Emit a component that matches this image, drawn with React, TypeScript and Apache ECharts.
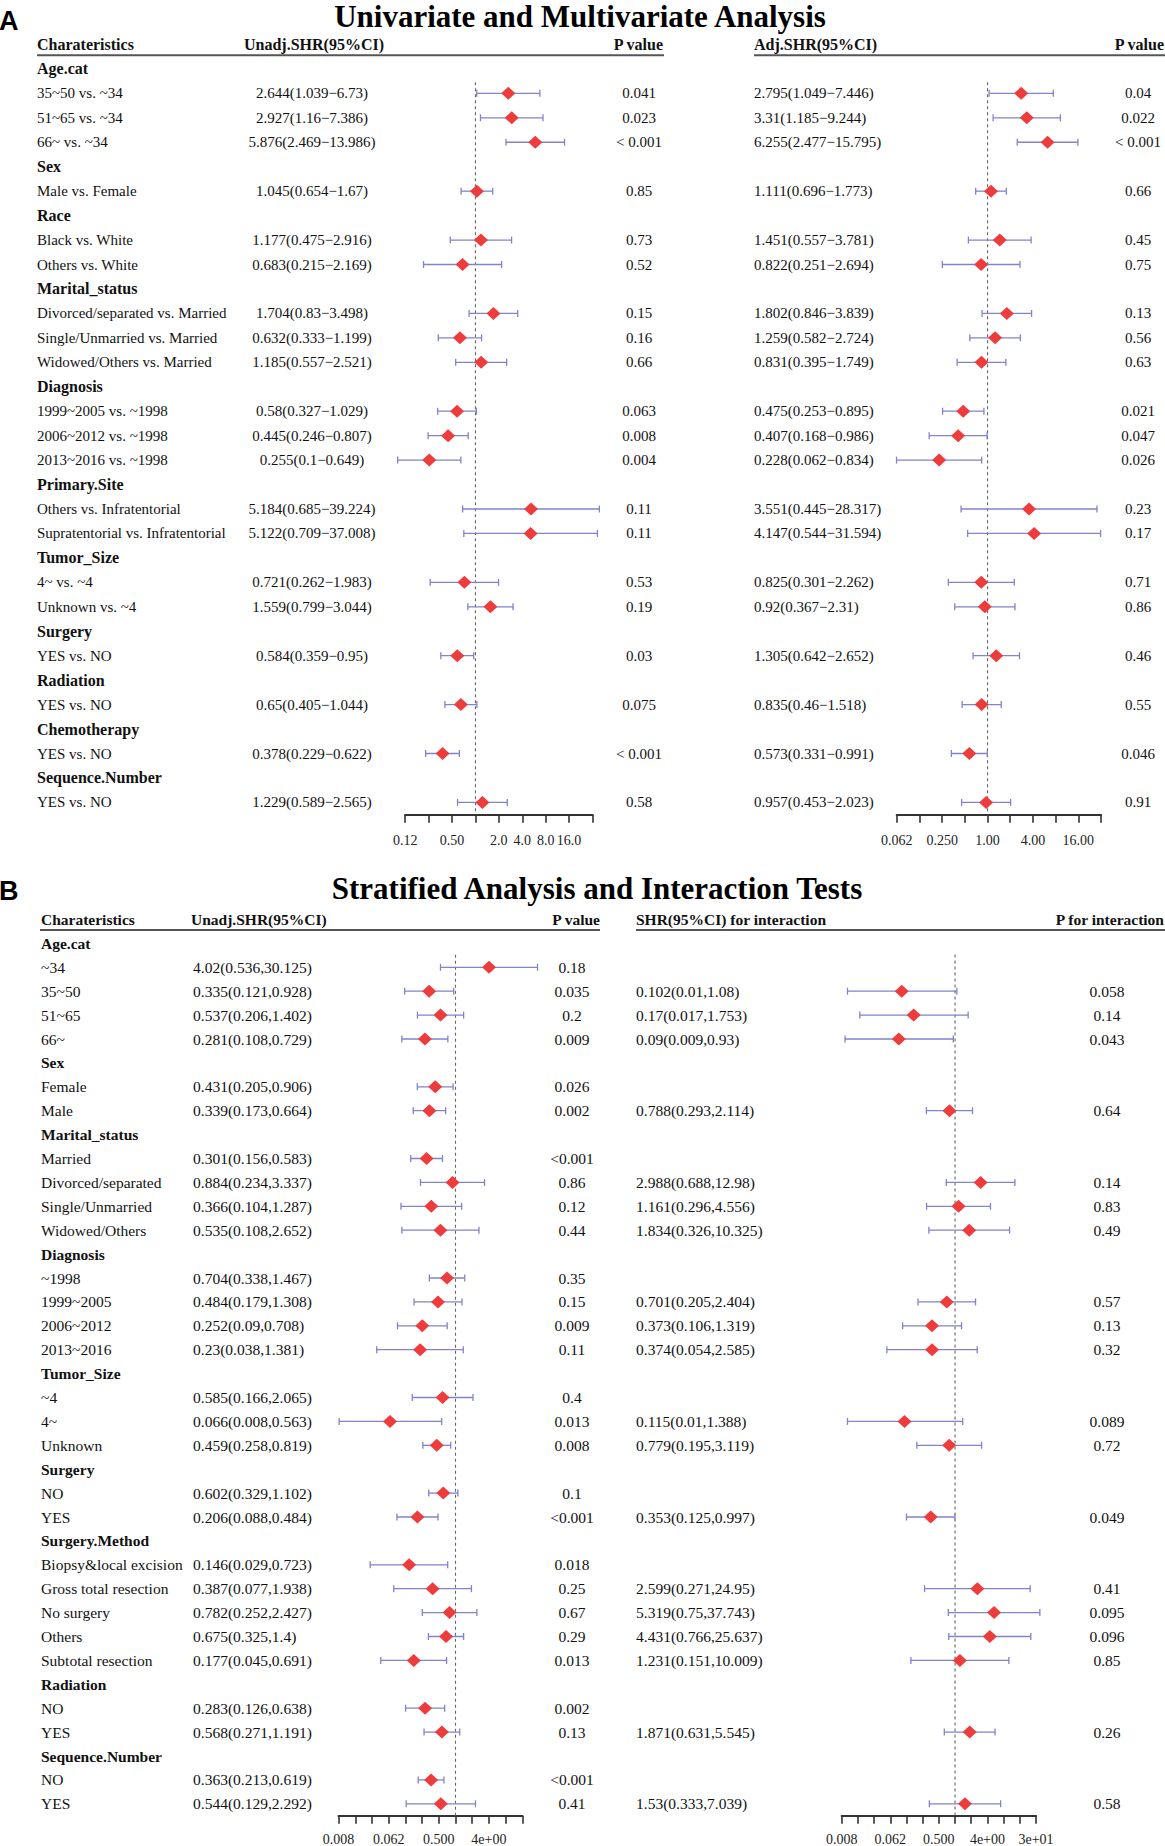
import React, { useEffect, useRef } from "react";
import * as echarts from "echarts";

const W = 1165;
const H = 1846;
const SERIF = '"Liberation Serif", "Times New Roman", Times, serif';
const SANS = '"Liberation Sans", Arial, Helvetica, sans-serif';
const TEXT = "#111111";
const WHISKER = "#8282cf";
const DIAMOND = "#ee3b3b";
const AXIS = "#333333";

// ---------------- Panel A: Univariate and Multivariate Analysis ----------------
const labelsA = [
  "Age.cat", "35~50 vs. ~34", "51~65 vs. ~34", "66~ vs. ~34",
  "Sex", "Male vs. Female",
  "Race", "Black vs. White", "Others vs. White",
  "Marital_status", "Divorced/separated vs. Married", "Single/Unmarried vs. Married", "Widowed/Others vs. Married",
  "Diagnosis", "1999~2005 vs. ~1998", "2006~2012 vs. ~1998", "2013~2016 vs. ~1998",
  "Primary.Site", "Others vs. Infratentorial", "Supratentorial vs. Infratentorial",
  "Tumor_Size", "4~ vs. ~4", "Unknown vs. ~4",
  "Surgery", "YES vs. NO",
  "Radiation", "YES vs. NO",
  "Chemotherapy", "YES vs. NO",
  "Sequence.Number", "YES vs. NO",
];
const unadjHrA = [null, 2.644, 2.927, 5.876, null, 1.045, null, 1.177, 0.683, null, 1.704, 0.632, 1.185, null, 0.58, 0.445, 0.255, null, 5.184, 5.122, null, 0.721, 1.559, null, 0.584, null, 0.65, null, 0.378, null, 1.229];
const unadjLoA = [null, 1.039, 1.16, 2.469, null, 0.654, null, 0.475, 0.215, null, 0.83, 0.333, 0.557, null, 0.327, 0.246, 0.1, null, 0.685, 0.709, null, 0.262, 0.799, null, 0.359, null, 0.405, null, 0.229, null, 0.589];
const unadjHiA = [null, 6.73, 7.386, 13.986, null, 1.67, null, 2.916, 2.169, null, 3.498, 1.199, 2.521, null, 1.029, 0.807, 0.649, null, 39.224, 37.008, null, 1.983, 3.044, null, 0.95, null, 1.044, null, 0.622, null, 2.565];
const unadjPA = ["", "0.041", "0.023", "< 0.001", "", "0.85", "", "0.73", "0.52", "", "0.15", "0.16", "0.66", "", "0.063", "0.008", "0.004", "", "0.11", "0.11", "", "0.53", "0.19", "", "0.03", "", "0.075", "", "< 0.001", "", "0.58"];
const adjHrA = [null, 2.795, 3.31, 6.255, null, 1.111, null, 1.451, 0.822, null, 1.802, 1.259, 0.831, null, 0.475, 0.407, 0.228, null, 3.551, 4.147, null, 0.825, 0.92, null, 1.305, null, 0.835, null, 0.573, null, 0.957];
const adjLoA = [null, 1.049, 1.185, 2.477, null, 0.696, null, 0.557, 0.251, null, 0.846, 0.582, 0.395, null, 0.253, 0.168, 0.062, null, 0.445, 0.544, null, 0.301, 0.367, null, 0.642, null, 0.46, null, 0.331, null, 0.453];
const adjHiA = [null, 7.446, 9.244, 15.795, null, 1.773, null, 3.781, 2.694, null, 3.839, 2.724, 1.749, null, 0.895, 0.986, 0.834, null, 28.317, 31.594, null, 2.262, 2.31, null, 2.652, null, 1.518, null, 0.991, null, 2.023];
const adjPA = ["", "0.04", "0.022", "< 0.001", "", "0.66", "", "0.45", "0.75", "", "0.13", "0.56", "0.63", "", "0.021", "0.047", "0.026", "", "0.23", "0.17", "", "0.71", "0.86", "", "0.46", "", "0.55", "", "0.046", "", "0.91"];

const tickValsA1 = [0.125, 0.5, 2, 4, 8, 16];
const tickTextA1 = ["0.12", "0.50", "2.0", "4.0", "8.0", "16.0"];
const tickValsA2 = [0.0625, 0.25, 1, 4, 16];
const tickTextA2 = ["0.062", "0.250", "1.00", "4.00", "16.00"];

// ---------------- Panel B: Stratified Analysis and Interaction Tests ----------------
const labelsB = [
  "Age.cat", "~34", "35~50", "51~65", "66~",
  "Sex", "Female", "Male",
  "Marital_status", "Married", "Divorced/separated", "Single/Unmarried", "Widowed/Others",
  "Diagnosis", "~1998", "1999~2005", "2006~2012", "2013~2016",
  "Tumor_Size", "~4", "4~", "Unknown",
  "Surgery", "NO", "YES",
  "Surgery.Method", "Biopsy&local excision", "Gross total resection", "No surgery", "Others", "Subtotal resection",
  "Radiation", "NO", "YES",
  "Sequence.Number", "NO", "YES",
];
const stratHrB = [null, 4.02, 0.335, 0.537, 0.281, null, 0.431, 0.339, null, 0.301, 0.884, 0.366, 0.535, null, 0.704, 0.484, 0.252, 0.23, null, 0.585, 0.066, 0.459, null, 0.602, 0.206, null, 0.146, 0.387, 0.782, 0.675, 0.177, null, 0.283, 0.568, null, 0.363, 0.544];
const stratLoB = [null, 0.536, 0.121, 0.206, 0.108, null, 0.205, 0.173, null, 0.156, 0.234, 0.104, 0.108, null, 0.338, 0.179, 0.09, 0.038, null, 0.166, 0.008, 0.258, null, 0.329, 0.088, null, 0.029, 0.077, 0.252, 0.325, 0.045, null, 0.126, 0.271, null, 0.213, 0.129];
const stratHiB = [null, 30.125, 0.928, 1.402, 0.729, null, 0.906, 0.664, null, 0.583, 3.337, 1.287, 2.652, null, 1.467, 1.308, 0.708, 1.381, null, 2.065, 0.563, 0.819, null, 1.102, 0.484, null, 0.723, 1.938, 2.427, 1.4, 0.691, null, 0.638, 1.191, null, 0.619, 2.292];
const stratPB = ["", "0.18", "0.035", "0.2", "0.009", "", "0.026", "0.002", "", "<0.001", "0.86", "0.12", "0.44", "", "0.35", "0.15", "0.009", "0.11", "", "0.4", "0.013", "0.008", "", "0.1", "<0.001", "", "0.018", "0.25", "0.67", "0.29", "0.013", "", "0.002", "0.13", "", "<0.001", "0.41"];
const interHrB = [null, null, 0.102, 0.17, 0.09, null, null, 0.788, null, null, 2.988, 1.161, 1.834, null, null, 0.701, 0.373, 0.374, null, null, 0.115, 0.779, null, null, 0.353, null, null, 2.599, 5.319, 4.431, 1.231, null, null, 1.871, null, null, 1.53];
const interLoB = [null, null, 0.01, 0.017, 0.009, null, null, 0.293, null, null, 0.688, 0.296, 0.326, null, null, 0.205, 0.106, 0.054, null, null, 0.01, 0.195, null, null, 0.125, null, null, 0.271, 0.75, 0.766, 0.151, null, null, 0.631, null, null, 0.333];
const interHiB = [null, null, 1.08, 1.753, 0.93, null, null, 2.114, null, null, 12.98, 4.556, 10.325, null, null, 2.404, 1.319, 2.585, null, null, 1.388, 3.119, null, null, 0.997, null, null, 24.95, 37.743, 25.637, 10.009, null, null, 5.545, null, null, 7.039];
const interPB = ["", "", "0.058", "0.14", "0.043", "", "", "0.64", "", "", "0.14", "0.83", "0.49", "", "", "0.57", "0.13", "0.32", "", "", "0.089", "0.72", "", "", "0.049", "", "", "0.41", "0.095", "0.096", "0.85", "", "", "0.26", "", "", "0.58"];

const tickValsB1 = [0.0078125, 0.0625, 0.5, 4];
const tickTextB1 = ["0.008", "0.062", "0.500", "4e+00"];
const tickValsB2 = [0.0078125, 0.0625, 0.5, 4, 32];
const tickTextB2 = ["0.008", "0.062", "0.500", "4e+00", "3e+01"];

// ---------------- layout ----------------
const A_Y0 = 68.9;
const A_DY = 24.45;
const B_Y0 = 943.4;
const B_DY = 23.9;

type Cell = { x: number; row: number; text: string; align: string; bold?: boolean; size: number };

const lg = (v: number) => Math.log2(v);

function tableGrid(y0: number, dy: number, n: number) {
  return { left: 0, width: W, top: y0 - 2 * dy, height: (n + 1.5) * dy, containLabel: false, outerBoundsMode: "none" };
}
function forestGrid(left: number, right: number, y0: number, dy: number, n: number) {
  return { left, width: right - left, top: y0 - 0.5 * dy, height: n * dy, containLabel: false, outerBoundsMode: "none" };
}
function tableAxes(gi: number, n: number) {
  return {
    x: { gridIndex: gi, type: "value", min: 0, max: W, show: false },
    y: { gridIndex: gi, type: "value", min: -2, max: n - 0.5, inverse: true, show: false },
  };
}
function forestAxes(gi: number, n: number, min: number, max: number, tickVals: number[], tickText: string[], margin: number) {
  const exps = tickVals.map((v) => Math.round(Math.log2(v)));
  return {
    x: {
      gridIndex: gi, type: "value", min, max, interval: 1, position: "bottom",
      axisLine: { show: true, onZero: false, lineStyle: { color: AXIS, width: 2.2 } },
      axisTick: { show: true, inside: false, length: 8, lineStyle: { color: AXIS, width: 1.6 } },
      axisLabel: {
        show: true, margin, fontFamily: SERIF, fontSize: 14, color: "#222", hideOverlap: false,
        showMinLabel: true, showMaxLabel: true,
        formatter: (v: number) => {
          const k = exps.findIndex((e) => Math.abs(e - v) < 1e-6);
          return k >= 0 ? tickText[k] : "";
        },
      },
      splitLine: { show: false },
      splitArea: { show: false },
    },
    y: { gridIndex: gi, type: "value", min: -0.5, max: n - 0.5, inverse: true, show: false },
  };
}

function textSeries(gi: number, cells: Cell[]) {
  return {
    type: "custom", xAxisIndex: gi, yAxisIndex: gi, silent: true, clip: false, z: 10,
    data: cells.map((c) => [c.x, c.row]),
    renderItem: (params: any, api: any) => {
      const c = cells[params.dataIndex];
      const p = api.coord([api.value(0), api.value(1)]);
      return {
        type: "text", x: p[0], y: p[1],
        style: {
          text: c.text, fill: TEXT, fontFamily: SERIF, fontSize: c.size,
          fontWeight: c.bold ? "bold" : "normal",
          align: c.align, textAlign: c.align, verticalAlign: "middle", textVerticalAlign: "middle",
        },
      };
    },
  };
}

function lineSeg(gi: number, pts: number[][], color: string, width: number, type: any, z: number) {
  return {
    type: "line", xAxisIndex: gi, yAxisIndex: gi, data: pts, symbol: "none", silent: true, clip: false, z,
    lineStyle: { color, width, type }, itemStyle: { color },
  };
}

function forestSeries(gi: number, hr: (number | null)[], lo: (number | null)[], hi: (number | null)[], n: number, dashStart: number) {
  const rows: number[] = [];
  hr.forEach((h, i) => { if (h != null) rows.push(i); });
  const whiskers = {
    type: "custom", xAxisIndex: gi, yAxisIndex: gi, silent: true, clip: false, z: 3,
    encode: { x: [0, 2], y: 1 },
    data: rows.map((i) => [lg(lo[i] as number), i, lg(hi[i] as number)]),
    renderItem: (params: any, api: any) => {
      const a = api.coord([api.value(0), api.value(1)]);
      const b = api.coord([api.value(2), api.value(1)]);
      const h = 3.5;
      const style = { stroke: WHISKER, lineWidth: 1.3, fill: null };
      return {
        type: "group",
        children: [
          { type: "line", shape: { x1: a[0], y1: a[1], x2: b[0], y2: b[1] }, style },
          { type: "line", shape: { x1: a[0], y1: a[1] - h, x2: a[0], y2: a[1] + h }, style },
          { type: "line", shape: { x1: b[0], y1: b[1] - h, x2: b[0], y2: b[1] + h }, style },
        ],
      };
    },
  };
  const points = {
    type: "scatter", xAxisIndex: gi, yAxisIndex: gi, silent: true, clip: false, z: 4,
    symbol: "diamond", symbolSize: [14, 13],
    itemStyle: { color: DIAMOND, opacity: 1 },
    data: rows.map((i) => [lg(hr[i] as number), i]),
  };
  const dash = lineSeg(gi, [[0, dashStart], [0, n - 0.5]], "#666", 1.1, [3, 3], 2);
  return [dash, whiskers, points];
}

const ciText = (h: number, l: number, u: number, sep: string) => `${h}(${l}${sep}${u})`;

function buildCellsA(): Cell[] {
  const cells: Cell[] = [
    { x: 37, row: -1, text: "Charateristics", align: "left", bold: true, size: 16 },
    { x: 244, row: -1, text: "Unadj.SHR(95%CI)", align: "left", bold: true, size: 16 },
    { x: 663, row: -1, text: "P value", align: "right", bold: true, size: 16 },
    { x: 754, row: -1, text: "Adj.SHR(95%CI)", align: "left", bold: true, size: 16 },
    { x: 1164, row: -1, text: "P value", align: "right", bold: true, size: 16 },
  ];
  labelsA.forEach((t, i) => {
    const grp = unadjHrA[i] == null;
    cells.push({ x: 37, row: i, text: t, align: "left", bold: grp, size: grp ? 16 : 15 });
    if (!grp) {
      cells.push({ x: 312, row: i, text: ciText(unadjHrA[i] as number, unadjLoA[i] as number, unadjHiA[i] as number, "\u2212"), align: "center", size: 15 });
      cells.push({ x: 639, row: i, text: unadjPA[i], align: "center", size: 15 });
    }
    if (adjHrA[i] != null) {
      cells.push({ x: 754, row: i, text: ciText(adjHrA[i] as number, adjLoA[i] as number, adjHiA[i] as number, "\u2212"), align: "left", size: 15 });
      cells.push({ x: 1138, row: i, text: adjPA[i], align: "center", size: 15 });
    }
  });
  return cells;
}

function buildCellsB(): Cell[] {
  const s = 15.5;
  const cells: Cell[] = [
    { x: 41, row: -1, text: "Charateristics", align: "left", bold: true, size: s },
    { x: 191, row: -1, text: "Unadj.SHR(95%CI)", align: "left", bold: true, size: s },
    { x: 600, row: -1, text: "P value", align: "right", bold: true, size: s },
    { x: 636, row: -1, text: "SHR(95%CI) for interaction", align: "left", bold: true, size: s },
    { x: 1164, row: -1, text: "P for interaction", align: "right", bold: true, size: s },
  ];
  labelsB.forEach((t, i) => {
    const grp = stratHrB[i] == null;
    cells.push({ x: 41, row: i, text: t, align: "left", bold: grp, size: s });
    if (!grp) {
      cells.push({ x: 193, row: i, text: ciText(stratHrB[i] as number, stratLoB[i] as number, stratHiB[i] as number, ","), align: "left", size: s });
      cells.push({ x: 572, row: i, text: stratPB[i], align: "center", size: s });
    }
    if (interHrB[i] != null) {
      cells.push({ x: 636, row: i, text: ciText(interHrB[i] as number, interLoB[i] as number, interHiB[i] as number, ","), align: "left", size: s });
      cells.push({ x: 1107, row: i, text: interPB[i], align: "center", size: s });
    }
  });
  return cells;
}

function buildOption() {
  const nA = labelsA.length;
  const nB = labelsB.length;
  const axes = [
    tableAxes(0, nA),
    forestAxes(1, nA, -3, 5, tickValsA1, tickTextA1, 19),
    forestAxes(2, nA, -4, 5, tickValsA2, tickTextA2, 19),
    tableAxes(3, nB),
    forestAxes(4, nB, -7, 4, tickValsB1, tickTextB1, 17),
    forestAxes(5, nB, -7, 5, tickValsB2, tickTextB2, 17),
  ];
  const ul = -0.56;
  const titleStyle = { fill: "#000", fontFamily: SERIF, fontWeight: "bold", fontSize: 31, align: "center", textAlign: "center", verticalAlign: "middle", textVerticalAlign: "middle" };
  const tagStyle = { fill: "#000", fontFamily: SANS, fontWeight: "bold", fontSize: 27, align: "left", textAlign: "left", verticalAlign: "middle", textVerticalAlign: "middle" };
  return {
    animation: false,
    backgroundColor: "#ffffff",
    grid: [
      tableGrid(A_Y0, A_DY, nA),
      forestGrid(405.2, 592.5, A_Y0, A_DY, nA),
      forestGrid(896.8, 1101, A_Y0, A_DY, nA),
      tableGrid(B_Y0, B_DY, nB),
      forestGrid(338.6, 522.3, B_Y0, B_DY, nB),
      forestGrid(841.7, 1036, B_Y0, B_DY, nB),
    ],
    xAxis: axes.map((a) => a.x),
    yAxis: axes.map((a) => a.y),
    graphic: [
      { type: "text", x: -1, y: 21, style: { ...tagStyle, text: "A" } },
      { type: "text", x: 580, y: 16, style: { ...titleStyle, text: "Univariate and Multivariate Analysis" } },
      { type: "text", x: -1, y: 891, style: { ...tagStyle, text: "B" } },
      { type: "text", x: 597, y: 888, style: { ...titleStyle, text: "Stratified Analysis and Interaction Tests" } },
    ],
    series: [
      lineSeg(0, [[37, ul], [664, ul]], "#555", 2, "solid", 1),
      lineSeg(0, [[754, ul], [1165, ul]], "#555", 2, "solid", 1),
      textSeries(0, buildCellsA()),
      ...forestSeries(1, unadjHrA, unadjLoA, unadjHiA, nA, 0.55),
      ...forestSeries(2, adjHrA, adjLoA, adjHiA, nA, 0.55),
      lineSeg(3, [[40, ul], [600, ul]], "#555", 2, "solid", 1),
      lineSeg(3, [[636, ul], [1165, ul]], "#555", 2, "solid", 1),
      textSeries(3, buildCellsB()),
      ...forestSeries(4, stratHrB, stratLoB, stratHiB, nB, 0.48),
      ...forestSeries(5, interHrB, interLoB, interHiB, nB, 0.46),
    ],
  };
}

export default function App() {
  const ref = useRef<HTMLDivElement>(null);
  useEffect(() => {
    document.body.style.margin = "0";
    const chart = echarts.init(ref.current as HTMLDivElement, null, { renderer: "svg", width: W, height: H });
    chart.setOption(buildOption() as any);
    return () => chart.dispose();
  }, []);
  return <div ref={ref} style={{ width: W, height: H, background: "#fff" }} />;
}
